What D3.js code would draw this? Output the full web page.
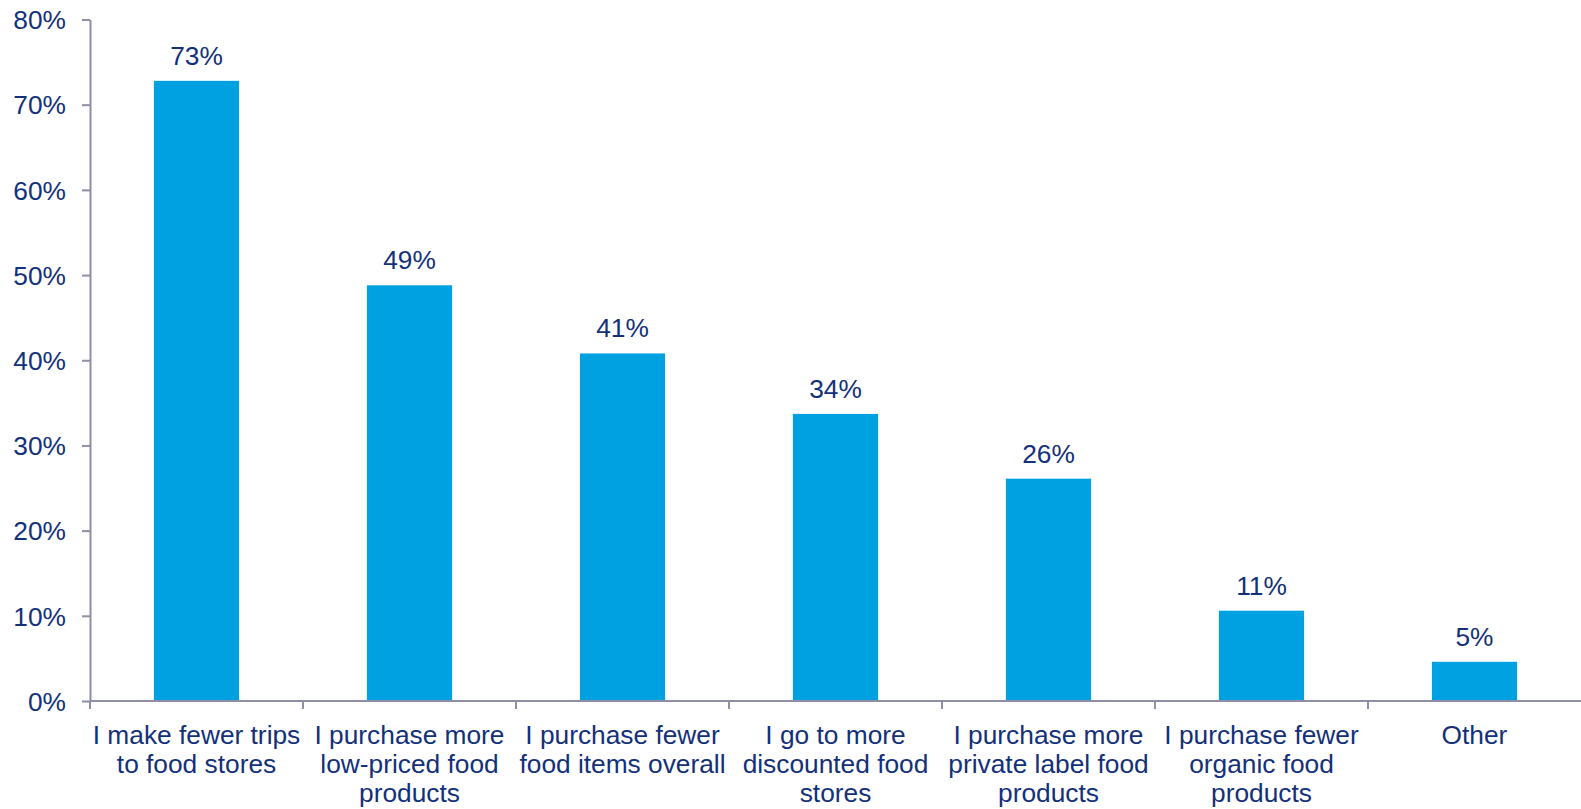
<!DOCTYPE html>
<html><head><meta charset="utf-8">
<script src="https://cdn.jsdelivr.net/npm/d3@7"></script>
<style>
html,body{margin:0;padding:0;background:#fff;}
svg{display:block;font-family:"Liberation Sans",Arial,sans-serif;}
</style></head>
<body>
<svg id="chart" width="1581" height="809"></svg>
<script>
const categories = [
  "I make fewer trips\nto food stores",
  "I purchase more\nlow-priced food\nproducts",
  "I purchase fewer\nfood items overall",
  "I go to more\ndiscounted food\nstores",
  "I purchase more\nprivate label food\nproducts",
  "I purchase fewer\norganic food\nproducts",
  "Other"
];
const values = [72.8, 48.8, 40.8, 33.7, 26.1, 10.6, 4.6];
const yTicks = [0, 10, 20, 30, 40, 50, 60, 70, 80];

(function () {
const textColor = "#13307a";
const axisColor = "#8e8ea6";
const barColor = "#00a1e0";

const svg = d3.select("#chart");
const mLeft = 90, mRight = 1581, mTop = 19.5, mBottom = 701;

const x = d3.scaleBand().domain(categories).range([mLeft, mRight]).paddingInner(0.6).paddingOuter(0.3);
const xb = d3.scaleBand().domain(categories).range([mLeft, mRight]).padding(0);
const y = d3.scaleLinear().domain([0, 80]).range([mBottom, mTop]);

// y axis
const ya = svg.append("g").attr("transform", `translate(${mLeft},0)`)
  .call(d3.axisLeft(y).tickValues(yTicks).tickFormat(d => d + "%").tickSize(8).tickPadding(16).tickSizeOuter(0));
ya.select(".domain").attr("stroke", axisColor).attr("stroke-width", 2);
ya.selectAll(".tick line").attr("stroke", axisColor).attr("stroke-width", 2);
ya.selectAll(".tick text").attr("fill", textColor).attr("font-size", 26.3).attr("font-family", "Liberation Sans, Arial, sans-serif").attr("dy", "0.35em");

// bars
svg.append("g").selectAll("rect").data(values).join("rect")
  .attr("x", (d, i) => x(categories[i]))
  .attr("width", x.bandwidth())
  .attr("y", d => y(d))
  .attr("height", d => y(0) - y(d))
  .attr("fill", barColor);

// value labels
svg.append("g").selectAll("text").data(values).join("text")
  .attr("x", (d, i) => x(categories[i]) + x.bandwidth() / 2)
  .attr("y", d => y(d) - 16)
  .attr("text-anchor", "middle")
  .attr("fill", textColor)
  .attr("font-size", 26.3)
  .text(d => Math.round(d) + "%");

// x axis line and ticks at category boundaries
const xg = svg.append("g");
xg.append("line").attr("x1", mLeft).attr("x2", mRight).attr("y1", mBottom).attr("y2", mBottom)
  .attr("stroke", axisColor).attr("stroke-width", 2);
const bounds = categories.map(c => xb(c));
xg.selectAll("line.t").data(bounds).join("line").attr("class", "t")
  .attr("x1", d => d).attr("x2", d => d).attr("y1", mBottom).attr("y2", mBottom + 8)
  .attr("stroke", axisColor).attr("stroke-width", 2);

// category labels
const cl = svg.append("g").selectAll("text").data(categories).join("text")
  .attr("x", d => xb(d) + xb.bandwidth() / 2)
  .attr("y", 744)
  .attr("text-anchor", "middle")
  .attr("fill", textColor)
  .attr("font-size", 26.3);
cl.each(function(d) {
  const t = d3.select(this);
  d.split("\n").forEach((line, i) => {
    t.append("tspan").attr("x", xb(d) + xb.bandwidth() / 2).attr("dy", i === 0 ? 0 : 29).text(line);
  });
});
})();
</script>
</body></html>
